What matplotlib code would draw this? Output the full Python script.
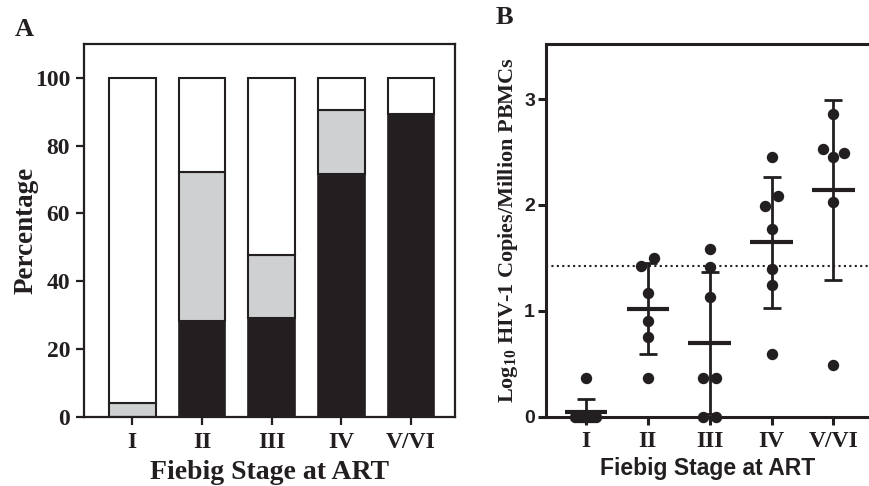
import numpy as np
import matplotlib
matplotlib.use("agg")
import matplotlib.pyplot as plt

# ---- data ----
stages = ["I", "II", "III", "IV", "V/VI"]

# panel A: stacked percentages
pct_black = [0, 28.3, 29.0, 71.7, 89.2]
pct_gray = [4.1, 44.0, 18.6, 18.9, 0]

# panel B: log10 HIV-1 copies per million PBMCs
vals_I = [0.37, 0, 0, 0, 0, 0, 0, 0, 0]
vals_II = [1.50, 1.42, 1.17, 0.90, 0.75, 0.37]
vals_III = [1.58, 1.415, 1.13, 0.37, 0.37, 0, 0]
vals_IV = [2.45, 2.085, 1.99, 1.77, 1.39, 1.24, 0.59]
vals_V = [2.86, 2.53, 2.49, 2.45, 2.03, 0.49]
threshold = 1.42

serif = "Liberation Serif"
sans = "Liberation Sans"
black = "#231f20"
gray = "#cfd0d2"

plt.rcParams["mathtext.fontset"] = "custom"
plt.rcParams["mathtext.rm"] = "Liberation Serif:bold"
plt.rcParams["mathtext.bf"] = "Liberation Serif:bold"


def swarm_offsets(vals, gap=0.1, step=0.22, maxw=0.34):
    # spread points with close values sideways, GraphPad-style
    vals = np.asarray(vals, dtype=float)
    order = np.argsort(vals)
    offs = np.zeros(len(vals))
    clusters = [[order[0]]]
    for i in order[1:]:
        if vals[i] - vals[clusters[-1][-1]] < gap:
            clusters[-1].append(i)
        else:
            clusters.append([i])
    for c in clusters:
        k = len(c)
        if k == 1:
            continue
        w = min(step * (k - 1), maxw)
        pos = np.linspace(-w / 2, w / 2, k)
        if k == 3:
            # highest to the left, lowest in the middle
            pos = np.array([0, w / 2, -w / 2])
        for j, o in zip(c, pos):
            offs[j] = o
    return offs


fig = plt.figure(figsize=(8.7, 4.86), dpi=100)

# ---------------- panel A ----------------
axA = fig.add_axes([0.0966, 0.1426, 0.4264, 0.767])
x = np.arange(len(stages))
bw = 0.67
pct_white = [100 - b - g for b, g in zip(pct_black, pct_gray)]
bottom_gray = np.array(pct_black)
bottom_white = bottom_gray + np.array(pct_gray)
axA.bar(x, pct_black, bw, color=black, edgecolor=black, linewidth=1.2, zorder=2)
for xi, b, g in zip(x, bottom_gray, pct_gray):
    if g > 0:
        axA.bar(xi, g, bw, bottom=b, color=gray, edgecolor=black, linewidth=1.5, zorder=2)
axA.bar(x, pct_white, bw, bottom=bottom_white, color="white", edgecolor=black,
        linewidth=1.5, zorder=2)

axA.set_xlim(-0.69, 4.63)
axA.set_ylim(0, 110)
axA.set_yticks([0, 20, 40, 60, 80, 100])
axA.set_xticks(x)
axA.set_xticklabels(stages)
for s in axA.spines.values():
    s.set_linewidth(1.6)
    s.set_color(black)
axA.tick_params(axis="both", direction="out", width=1.6, length=6, color=black,
                labelcolor=black)
axA.tick_params(axis="y", pad=4)
axA.tick_params(axis="x", pad=5)
for lab in axA.get_xticklabels() + axA.get_yticklabels():
    lab.set_fontfamily(serif)
    lab.set_fontweight("bold")
    lab.set_fontsize(17)
axA.set_ylabel("Percentage", fontfamily=serif, fontweight="bold", fontsize=19.5,
               color=black, labelpad=-3)
axA.set_xlabel("Fiebig Stage at ART", fontfamily=serif, fontweight="bold",
               fontsize=20, color=black, labelpad=5)
fig.text(24 / 870, 1 - 29 / 486, "A", fontfamily=serif, fontweight="bold",
         fontsize=19, ha="center", va="center", color=black)

# ---------------- panel B ----------------
axB = fig.add_axes([0.6276, 0.1426, 0.3724, 0.767])
groups = [vals_I, vals_II, vals_III, vals_IV, vals_V]
for i, vals in enumerate(groups):
    v = np.array(vals)
    offs = swarm_offsets(v)
    axB.plot(i + offs, v, "o", color=black, markersize=7.2, clip_on=False, zorder=3)
    m = v.mean()
    sd = v.std(ddof=1)
    axB.errorbar(i, m, yerr=sd, color=black, elinewidth=2, capsize=6.5,
                 capthick=2, fmt="none", zorder=4)
    axB.hlines(m, i - 0.34, i + 0.34, color=black, linewidth=3, zorder=4)

axB.axhline(threshold, color=black, linestyle=(0, (1, 1.6)), linewidth=1.5, zorder=1)
axB.set_xlim(-0.64, 4.59)
axB.set_ylim(0, 3.52)
axB.set_yticks([0, 1, 2, 3])
axB.set_xticks(range(len(stages)))
axB.set_xticklabels(stages)
axB.spines["right"].set_visible(False)
for s in ["left", "top", "bottom"]:
    axB.spines[s].set_linewidth(2.2)
    axB.spines[s].set_color(black)
axB.tick_params(axis="both", direction="out", width=2.2, length=6, color=black,
                labelcolor=black)
axB.tick_params(axis="y", pad=2)
axB.tick_params(axis="x", pad=4)
for lab in axB.get_yticklabels():
    lab.set_fontfamily(sans)
    lab.set_fontweight("bold")
    lab.set_fontsize(14)
for lab in axB.get_xticklabels():
    lab.set_fontfamily(serif)
    lab.set_fontweight("bold")
    lab.set_fontsize(17)
axB.set_ylabel(r"Log$_{10}$ HIV-1 Copies/Million PBMCs", fontfamily=serif,
               fontweight="bold", fontsize=16, color=black, labelpad=3)
axB.set_xlabel("Fiebig Stage at ART", fontfamily=sans, fontweight="bold",
               fontsize=16.5, color=black, labelpad=4)
fig.text(504 / 870, 1 - 17 / 486, "B", fontfamily=serif, fontweight="bold",
         fontsize=19, ha="center", va="center", color=black)

fig.savefig("out.png", dpi=100)
